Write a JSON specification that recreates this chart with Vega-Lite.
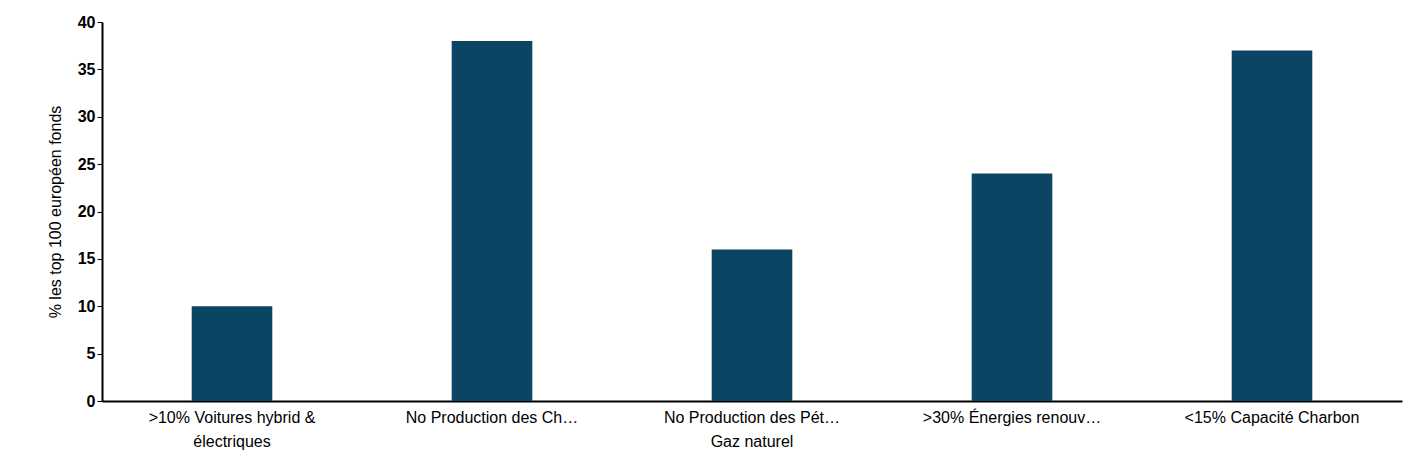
{
  "$schema": "https://vega.github.io/schema/vega-lite/v6.json",
  "width": 1300,
  "height": 379,
  "autosize": "none",
  "padding": {"left": 102, "top": 22, "right": 21, "bottom": 71},
  "background": "#ffffff",
  "config": {
    "view": {"stroke": null},
    "font": "Liberation Sans"
  },
  "data": {
    "values": [
      {"category": ">10% Voitures hybrid &|électriques", "value": 10},
      {"category": "No Production des Charbon", "value": 38},
      {"category": "No Production des Pétrole &|Gaz naturel", "value": 16},
      {"category": ">30% Énergies renouvelables", "value": 24},
      {"category": "<15% Capacité Charbon", "value": 37}
    ]
  },
  "mark": {"type": "bar", "color": "#0b4563"},
  "encoding": {
    "x": {
      "field": "category",
      "type": "nominal",
      "sort": null,
      "title": null,
      "scale": {"paddingInner": 0.69, "paddingOuter": 0.345},
      "axis": {
        "labelAngle": 0,
        "labelExpr": "split(datum.label, '|')",
        "labelFontSize": 16,
        "labelColor": "#000000",
        "labelPadding": 8,
        "labelLineHeight": 24,
        "ticks": false,
        "domainColor": "#000000",
        "domainWidth": 2
      }
    },
    "y": {
      "field": "value",
      "type": "quantitative",
      "title": "% les top 100 européen fonds",
      "scale": {"domain": [0, 40]},
      "axis": {
        "values": [0, 5, 10, 15, 20, 25, 30, 35, 40],
        "grid": false,
        "labelFontSize": 16,
        "labelFontWeight": "bold",
        "labelColor": "#000000",
        "titleFontSize": 16,
        "titleFontWeight": "normal",
        "titleColor": "#000000",
        "titlePadding": 14,
        "tickColor": "#000000",
        "tickSize": 5,
        "domainColor": "#000000",
        "domainWidth": 2
      }
    }
  }
}
